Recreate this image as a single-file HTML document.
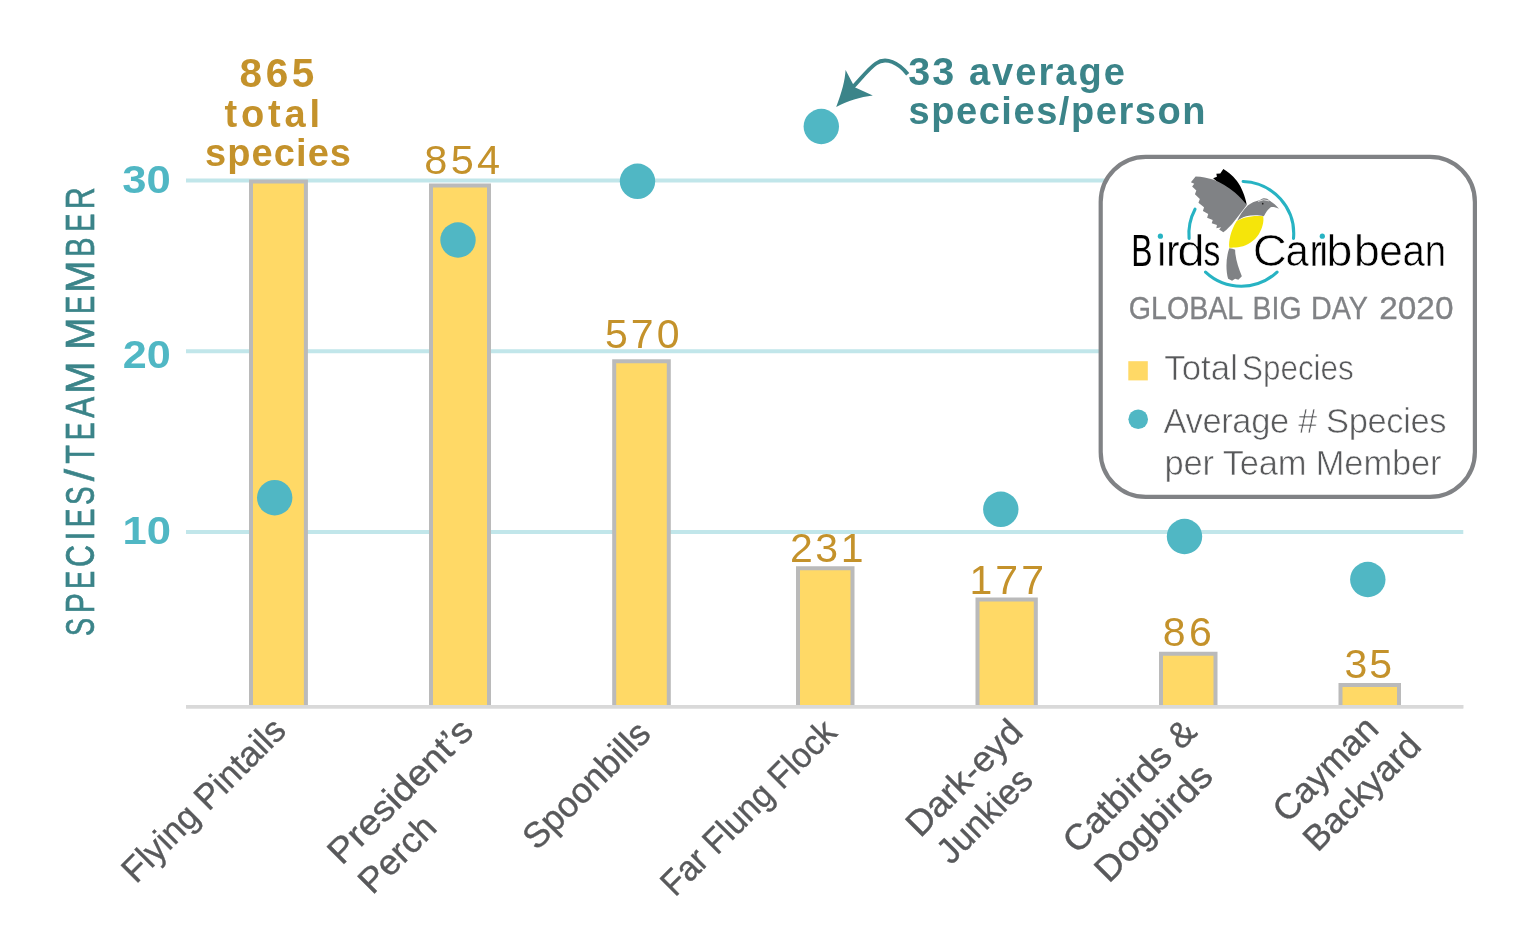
<!DOCTYPE html>
<html lang="en"><head><meta charset="utf-8"><title>Global Big Day 2020 - BirdsCaribbean</title>
<style>html,body{margin:0;padding:0;background:#fff;overflow:hidden}svg{display:block;will-change:transform}text{font-family:"Liberation Sans",sans-serif}</style>
</head><body>
<svg width="1536" height="928" viewBox="0 0 1536 928">
<rect width="1536" height="928" fill="#fff"/>
<line x1="186" x2="1463.3" y1="180.4" y2="180.4" stroke="#C1E6EA" stroke-width="4.0"/>
<line x1="186" x2="1463.3" y1="351.25" y2="351.25" stroke="#C1E6EA" stroke-width="4.0"/>
<line x1="186" x2="1463.3" y1="532.1" y2="532.1" stroke="#C1E6EA" stroke-width="4.0"/>
<line x1="186" x2="1463.3" y1="706.8" y2="706.8" stroke="#D9D9D9" stroke-width="3.6"/>
<path d="M251.00 707 V181.40 H305.90 V707" fill="#FFD966" stroke="#BABABA" stroke-width="4.0"/>
<path d="M431.00 707 V185.60 H489.00 V707" fill="#FFD966" stroke="#BABABA" stroke-width="4.0"/>
<path d="M614.20 707 V361.20 H668.80 V707" fill="#FFD966" stroke="#BABABA" stroke-width="4.0"/>
<path d="M798.00 707 V568.20 H852.50 V707" fill="#FFD966" stroke="#BABABA" stroke-width="4.0"/>
<path d="M977.50 707 V599.50 H1035.80 V707" fill="#FFD966" stroke="#BABABA" stroke-width="4.0"/>
<path d="M1161.00 707 V653.70 H1215.50 V707" fill="#FFD966" stroke="#BABABA" stroke-width="4.0"/>
<path d="M1340.50 707 V685.00 H1399.00 V707" fill="#FFD966" stroke="#BABABA" stroke-width="4.0"/>
<line x1="186" x2="1463.3" y1="706.8" y2="706.8" stroke="#D9D9D9" stroke-width="3.6"/>
<circle cx="274.7" cy="497.7" r="17.7" fill="#50B7C4"/>
<circle cx="458" cy="240" r="17.7" fill="#50B7C4"/>
<circle cx="637.5" cy="181.3" r="17.7" fill="#50B7C4"/>
<circle cx="821.3" cy="126.5" r="17.7" fill="#50B7C4"/>
<circle cx="1000.8" cy="509.3" r="17.7" fill="#50B7C4"/>
<circle cx="1184.5" cy="536.5" r="17.7" fill="#50B7C4"/>
<circle cx="1367.8" cy="579.5" r="17.7" fill="#50B7C4"/>
<text x="122.3" y="193" font-size="38" font-weight="bold" fill="#50B7C4" text-anchor="start" textLength="48.5" lengthAdjust="spacingAndGlyphs">30</text>
<text x="122.8" y="368" font-size="38" font-weight="bold" fill="#50B7C4" text-anchor="start" textLength="48" lengthAdjust="spacingAndGlyphs">20</text>
<text x="122.5" y="544.3" font-size="38" font-weight="bold" fill="#50B7C4" text-anchor="start" textLength="48.5" lengthAdjust="spacingAndGlyphs">10</text>
<text transform="translate(93.5,635.4) rotate(-90)" font-size="40" fill="#3B8489" stroke="#3B8489" stroke-width="0.7"><tspan x="-0.57" textLength="17.96" lengthAdjust="spacingAndGlyphs">S</tspan><tspan x="22.07" textLength="20.18" lengthAdjust="spacingAndGlyphs">P</tspan><tspan x="46.51" textLength="18.21" lengthAdjust="spacingAndGlyphs">E</tspan><tspan x="68.30" textLength="22.01" lengthAdjust="spacingAndGlyphs">C</tspan><tspan x="95.08" textLength="8.64" lengthAdjust="spacingAndGlyphs">I</tspan><tspan x="108.25" textLength="18.71" lengthAdjust="spacingAndGlyphs">E</tspan><tspan x="130.38" textLength="18.65" lengthAdjust="spacingAndGlyphs">S</tspan><tspan x="154.25" textLength="12.30" lengthAdjust="spacingAndGlyphs">/</tspan><tspan x="171.66" textLength="18.80" lengthAdjust="spacingAndGlyphs">T</tspan><tspan x="195.06" textLength="17.84" lengthAdjust="spacingAndGlyphs">E</tspan><tspan x="217.59" textLength="20.82" lengthAdjust="spacingAndGlyphs">A</tspan><tspan x="241.69" textLength="32.13" lengthAdjust="spacingAndGlyphs">M</tspan><tspan x="275"> </tspan><tspan x="285.69" textLength="32.13" lengthAdjust="spacingAndGlyphs">M</tspan><tspan x="321.51" textLength="18.21" lengthAdjust="spacingAndGlyphs">E</tspan><tspan x="342.69" textLength="32.13" lengthAdjust="spacingAndGlyphs">M</tspan><tspan x="378.36" textLength="19.42" lengthAdjust="spacingAndGlyphs">B</tspan><tspan x="403.71" textLength="18.21" lengthAdjust="spacingAndGlyphs">E</tspan><tspan x="426.05" textLength="22.01" lengthAdjust="spacingAndGlyphs">R</tspan></text>
<text x="424.2" y="174.2" font-size="41.5" font-weight="normal" fill="#C4922B" text-anchor="start" textLength="76" lengthAdjust="spacing">854</text>
<text x="605.0" y="348.2" font-size="41" font-weight="normal" fill="#C4922B" text-anchor="start" textLength="74.5" lengthAdjust="spacing">570</text>
<text x="790.0" y="561.8" font-size="41" font-weight="normal" fill="#C4922B" text-anchor="start" textLength="73.5" lengthAdjust="spacing">231</text>
<text x="969.5" y="593.8" font-size="41" font-weight="normal" fill="#C4922B" text-anchor="start" textLength="74.5" lengthAdjust="spacing">177</text>
<text x="1162.7" y="645.5" font-size="41" font-weight="normal" fill="#C4922B" text-anchor="start" textLength="49" lengthAdjust="spacing">86</text>
<text x="1344.5" y="678" font-size="41" font-weight="normal" fill="#C4922B" text-anchor="start" textLength="47.5" lengthAdjust="spacing">35</text>
<text x="239.6" y="87.2" font-size="40.5" font-weight="bold" fill="#C4922B" text-anchor="start" textLength="74.8" lengthAdjust="spacing">865</text>
<text x="224.5" y="127.0" font-size="38" font-weight="bold" fill="#C4922B" text-anchor="start" textLength="95.5" lengthAdjust="spacing">total</text>
<text x="205" y="166.0" font-size="38" font-weight="bold" fill="#C4922B" text-anchor="start" textLength="146" lengthAdjust="spacing">species</text>
<text x="908.3" y="85.4" font-size="38" font-weight="bold" fill="#3B8489" text-anchor="start" textLength="216.5" lengthAdjust="spacing"><tspan font-size="39.5">33</tspan> average</text>
<text x="908.5" y="124.1" font-size="38" font-weight="bold" fill="#3B8489" text-anchor="start" textLength="297" lengthAdjust="spacing">species/person</text>
<path d="M907.7 74.3 C 899 63, 886 56.5, 876 63.5 C 868 69, 860 80, 852 88" fill="none" stroke="#3B8489" stroke-width="3.9"/>
<path d="M836.2 107 C 842 92, 845 80, 845.6 70 L 854.7 87.2 L 872.8 95.6 C 860 97, 848 101, 836.2 107 Z" fill="#3B8489"/>
<rect x="1100.7" y="156.9" width="374.2" height="340" rx="45" ry="45" fill="#fff" stroke="#808285" stroke-width="4.2"/>
<path d="M1243.13 181.43 A52.4 52.4 0 0 1 1293.50 238.37" fill="none" stroke="#27B3C3" stroke-width="3.1" stroke-linecap="round"/>
<path d="M1189.10 238.37 A52.4 52.4 0 0 1 1195.03 209.20" fill="none" stroke="#27B3C3" stroke-width="3.1" stroke-linecap="round"/>
<path d="M1277.04 272.12 A52.4 52.4 0 0 1 1205.56 272.12" fill="none" stroke="#27B3C3" stroke-width="3.1" stroke-linecap="round"/>
<g transform="translate(1120,160) scale(0.14006)">
<path d="M738 65 C 765 80 800 108 835 150 C 868 195 893 255 905 322 C 880 298 850 268 820 242 C 780 212 735 180 700 160 L 665 130 L 692 120 L 688 98 L 716 96 Z" fill="#000"/>
<path d="M540 118 C 585 120 625 128 665 140 C 720 160 770 192 820 232 C 855 262 885 295 905 322 C 880 355 850 395 820 432 C 795 465 765 497 738 515 L 708 497 L 722 480 L 688 487 L 692 464 L 655 452 L 662 428 L 622 412 L 630 386 L 592 365 L 600 338 L 560 305 L 570 278 L 535 245 L 545 218 L 515 190 L 530 170 L 506 158 Z" fill="#808285"/>
<path d="M780 630 C 795 632 810 636 822 640 C 822 700 845 770 870 830 L 845 855 L 822 848 L 800 862 L 772 848 C 755 790 755 700 780 630 Z" fill="#808285"/>
<path d="M912 325 C 935 305 970 292 1000 285 C 1020 268 1050 270 1066 290 C 1088 300 1116 325 1135 348 C 1110 336 1090 332 1076 337 C 1056 350 1042 375 1027 402 C 990 392 940 392 900 402 C 872 410 850 425 836 436 C 852 398 882 355 912 325 Z" fill="#808285"/>
<path d="M985 296 Q 1025 274 1064 292" fill="none" stroke="#fff" stroke-width="5"/>
<circle cx="1019" cy="312" r="6" fill="#222"/>
<path d="M832 438 C 872 412 940 394 1022 402 C 1030 442 1015 492 990 532 C 960 577 910 610 860 620 C 830 626 800 627 780 626 C 775 580 790 505 832 438 Z" fill="#F5E50A"/>
</g>
<text y="266.3" font-size="45" fill="#000"><tspan x="1131.3" textLength="21.2" lengthAdjust="spacingAndGlyphs">B</tspan><tspan x="1155.5" stroke="#fff" stroke-width="0.8">ı</tspan><tspan x="1166.2" textLength="13.3" lengthAdjust="spacingAndGlyphs" stroke="#fff" stroke-width="0.4">r</tspan><tspan x="1177.2" textLength="27.6" lengthAdjust="spacingAndGlyphs" stroke="#fff" stroke-width="0.7">d</tspan><tspan x="1203.6" textLength="16.8" lengthAdjust="spacingAndGlyphs" stroke="#fff" stroke-width="0.3">s</tspan></text>
<text y="266.3" font-size="45" fill="#000"><tspan x="1252.8" textLength="34.2" lengthAdjust="spacingAndGlyphs" stroke="#fff" stroke-width="0.7">C</tspan><tspan x="1285.5" textLength="23.3" lengthAdjust="spacingAndGlyphs" stroke="#fff" stroke-width="0.6">a</tspan><tspan x="1309.7" textLength="12.5" lengthAdjust="spacingAndGlyphs" stroke="#fff" stroke-width="0.4">r</tspan><tspan x="1317.4" stroke="#fff" stroke-width="0.8">ı</tspan><tspan x="1326.2" textLength="26.1" lengthAdjust="spacingAndGlyphs" stroke="#fff" stroke-width="0.7">b</tspan><tspan x="1353.7" textLength="26.1" lengthAdjust="spacingAndGlyphs" stroke="#fff" stroke-width="0.7">b</tspan><tspan x="1379.3" textLength="23.5" lengthAdjust="spacingAndGlyphs" stroke="#fff" stroke-width="0.6">e</tspan><tspan x="1402.6" textLength="22.4" lengthAdjust="spacingAndGlyphs" stroke="#fff" stroke-width="0.6">a</tspan><tspan x="1424.7" textLength="21.3" lengthAdjust="spacingAndGlyphs" stroke="#fff" stroke-width="0.6">n</tspan></text>
<circle cx="1160.4" cy="236.2" r="2.6" fill="#27B3C3"/>
<circle cx="1322.3" cy="236.2" r="2.6" fill="#27B3C3"/>
<text y="318.6" font-size="31.5" fill="#808285" stroke="#808285" stroke-width="0.3"><tspan x="1128.74" textLength="114.45" lengthAdjust="spacingAndGlyphs">GLOBAL</tspan><tspan x="1243.19"> </tspan><tspan x="1252.59" textLength="48.96" lengthAdjust="spacingAndGlyphs">BIG</tspan><tspan x="1301.55"> </tspan><tspan x="1310.98" textLength="56.95" lengthAdjust="spacingAndGlyphs">DAY</tspan><tspan x="1367.93"> </tspan><tspan x="1379.16" textLength="74.33" lengthAdjust="spacingAndGlyphs">2020</tspan></text>
<rect x="1128.3" y="361.2" width="19.5" height="19.2" fill="#FFD966"/>
<circle cx="1138.2" cy="419.3" r="9.8" fill="#50B7C4"/>
<text y="380" font-size="34.5" fill="#58595B" stroke="#fff" stroke-width="0.6"><tspan x="1164.32" textLength="73.55" lengthAdjust="spacingAndGlyphs">Total</tspan><tspan x="1237.87"> </tspan><tspan x="1241.97" textLength="111.82" lengthAdjust="spacingAndGlyphs">Species</tspan></text>
<text x="1163.5" y="432.9" font-size="34.5" font-weight="normal" fill="#58595B" text-anchor="start" textLength="283" lengthAdjust="spacing" stroke="#fff" stroke-width="0.6">Average # Species</text>
<text x="1164.5" y="475.2" font-size="34.5" font-weight="normal" fill="#58595B" text-anchor="start" textLength="277" lengthAdjust="spacing" stroke="#fff" stroke-width="0.6">per Team Member</text>
<text transform="translate(135.91,884.39) rotate(-45)" font-size="35.5" font-weight="normal" fill="#58595B" text-anchor="start" textLength="214.72" lengthAdjust="spacingAndGlyphs" stroke="#58595B" stroke-width="0.4">Flying Pintails</text>
<text transform="translate(341.84,866.36) rotate(-45)" font-size="35.5" font-weight="normal" fill="#58595B" text-anchor="start" textLength="188.55" lengthAdjust="spacingAndGlyphs" stroke="#58595B" stroke-width="0.4">President’s</text>
<text transform="translate(372.50,895.50) rotate(-45)" font-size="35.5" font-weight="normal" fill="#58595B" text-anchor="start" textLength="93.62" lengthAdjust="spacingAndGlyphs" stroke="#58595B" stroke-width="0.4">Perch</text>
<text transform="translate(537.11,851.29) rotate(-45)" font-size="35.5" font-weight="normal" fill="#58595B" text-anchor="start" textLength="163.37" lengthAdjust="spacingAndGlyphs" stroke="#58595B" stroke-width="0.4">Spoonbills</text>
<text transform="translate(675.07,897.83) rotate(-45)" font-size="35.5" font-weight="normal" fill="#58595B" text-anchor="start" textLength="231.03" lengthAdjust="spacingAndGlyphs" stroke="#58595B" stroke-width="0.4">Far Flung Flock</text>
<text transform="translate(920.24,838.56) rotate(-45)" font-size="35.5" font-weight="normal" fill="#58595B" text-anchor="start" textLength="147.84" lengthAdjust="spacingAndGlyphs" stroke="#58595B" stroke-width="0.4">Dark-eyd</text>
<text transform="translate(951.09,865.81) rotate(-45)" font-size="35.5" font-weight="normal" fill="#58595B" text-anchor="start" textLength="118.28" lengthAdjust="spacingAndGlyphs" stroke="#58595B" stroke-width="0.4">Junkies</text>
<text transform="translate(1077.33,854.97) rotate(-45)" font-size="35.5" font-weight="normal" fill="#58595B" text-anchor="start" textLength="171.56" lengthAdjust="spacingAndGlyphs" stroke="#58595B" stroke-width="0.4">Catbirds &amp;</text>
<text transform="translate(1108.77,884.13) rotate(-45)" font-size="35.5" font-weight="normal" fill="#58595B" text-anchor="start" textLength="149.83" lengthAdjust="spacingAndGlyphs" stroke="#58595B" stroke-width="0.4">Dogbirds</text>
<text transform="translate(1287.18,824.02) rotate(-45)" font-size="35.5" font-weight="normal" fill="#58595B" text-anchor="start" textLength="131.91" lengthAdjust="spacingAndGlyphs" stroke="#58595B" stroke-width="0.4">Cayman</text>
<text transform="translate(1317.59,853.11) rotate(-45)" font-size="35.5" font-weight="normal" fill="#58595B" text-anchor="start" textLength="149.13" lengthAdjust="spacingAndGlyphs" stroke="#58595B" stroke-width="0.4">Backyard</text>
</svg></body></html>
